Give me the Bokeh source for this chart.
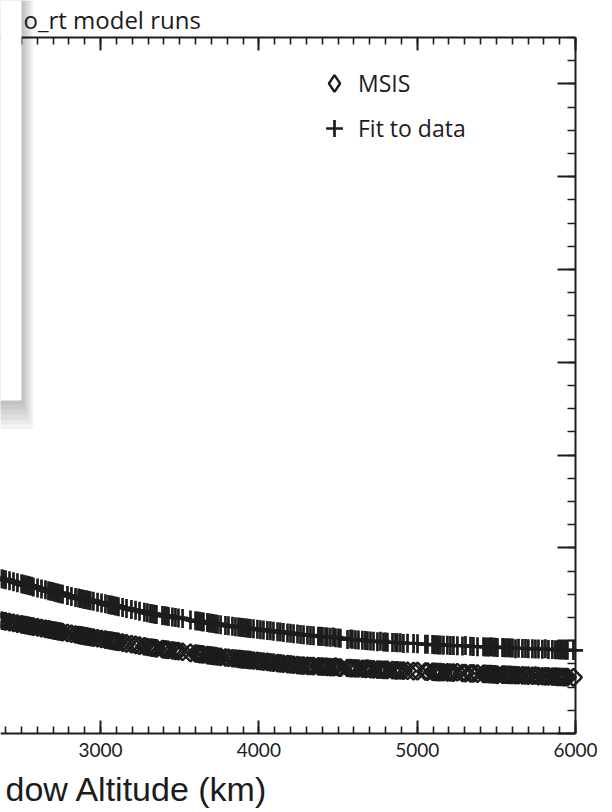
import numpy as np
from bokeh.plotting import figure
from bokeh.models import (ColumnDataSource, Range1d, LinearAxis, SingleIntervalTicker,
                          CustomJSTickFormatter, Label, BoxAnnotation, Legend, LegendItem)
from bokeh.embed import file_html
from bokeh.resources import INLINE

# ---------------- data ----------------
altitude_km = [
    2330, 2349,
    2374, 2387, 2400, 2425, 2450, 2475, 2501, 2513, 2526, 2539,
    2551, 2564, 2576, 2602, 2627, 2652, 2671, 2684, 2696, 2709,
    2722, 2734, 2747, 2760, 2791, 2816, 2842, 2861, 2873, 2886,
    2899, 2911, 2924, 2936, 2955, 2981, 3006, 3031, 3050, 3063,
    3075, 3088, 3101, 3113, 3139, 3164, 3195, 3221, 3246, 3277,
    3296,
    3315, 3328, 3341, 3353, 3391, 3404, 3416, 3429, 3454, 3473,
    3492, 3518, 3568, 3600, 3612, 3625, 3638, 3650, 3675, 3688,
    3701, 3713, 3726, 3739, 3758, 3789, 3808, 3833, 3852, 3871,
    3884, 3896, 3909, 3922, 3934, 3947, 3966, 3991, 4010, 4029,
    4054, 4073, 4092, 4118, 4136, 4155, 4181, 4200, 4219, 4244,
    4263, 4282, 4307, 4326, 4345, 4376, 4389, 4402, 4421, 4433,
    4452, 4471, 4484, 4503, 4515, 4560, 4579, 4591, 4610, 4629,
    4654, 4673, 4686, 4705, 4724, 4749, 4768, 4787, 4800, 4812,
    4844, 4863, 4875, 4894, 4913, 4939, 4977, 5002, 5052, 5065,
    5097, 5109, 5122, 5134, 5147, 5166, 5191,
    5210, 5229, 5254, 5286, 5305, 5337, 5355, 5381, 5419, 5431,
    5444, 5457, 5469, 5482, 5494, 5507, 5539, 5551, 5564, 5577,
    5589, 5602, 5621, 5640, 5665, 5684, 5702, 5728, 5747, 5766,
    5791, 5810, 5829, 5854, 5873, 5886, 5899, 5911, 5924, 5937,
    5949, 5987,
]

fit_to_data = [
    1.686, 1.678,
    1.667, 1.662, 1.656, 1.646, 1.635, 1.624, 1.613, 1.607, 1.602, 1.597,
    1.591, 1.586, 1.580, 1.569, 1.558, 1.548, 1.539, 1.534, 1.529, 1.523,
    1.518, 1.512, 1.507, 1.501, 1.488, 1.477, 1.466, 1.459, 1.454, 1.450,
    1.445, 1.441, 1.436, 1.431, 1.424, 1.415, 1.406, 1.397, 1.390, 1.385,
    1.381, 1.376, 1.371, 1.367, 1.357, 1.348, 1.337, 1.327, 1.318, 1.307,
    1.300,
    1.293, 1.290, 1.286, 1.283, 1.272, 1.269, 1.265, 1.262, 1.255, 1.250,
    1.245, 1.238, 1.224, 1.216, 1.212, 1.209, 1.205, 1.202, 1.195, 1.192,
    1.188, 1.185, 1.181, 1.178, 1.173, 1.164, 1.160, 1.155, 1.151, 1.147,
    1.145, 1.142, 1.139, 1.137, 1.134, 1.132, 1.128, 1.123, 1.119, 1.115,
    1.110, 1.106, 1.102, 1.097, 1.093, 1.089, 1.084, 1.080, 1.076, 1.071,
    1.067, 1.064, 1.060, 1.057, 1.054, 1.049, 1.047, 1.045, 1.042, 1.040,
    1.037, 1.040, 1.032, 1.029, 1.027, 1.014, 1.017, 1.015, 1.011, 1.008,
    1.004, 1.001, 0.999, 0.996, 0.993, 0.990, 0.995, 0.986, 0.985, 0.984,
    0.981, 0.980, 0.978, 0.977, 0.970, 0.973, 0.969, 0.967, 0.963, 0.961,
    0.959, 0.957, 0.956, 0.955, 0.954, 0.952, 0.950,
    0.948, 0.947, 0.945, 0.943, 0.948, 0.939, 0.938, 0.936, 0.934, 0.933,
    0.932, 0.931, 0.936, 0.929, 0.929, 0.928, 0.926, 0.925, 0.924, 0.923,
    0.922, 0.921, 0.913, 0.919, 0.917, 0.916, 0.914, 0.913, 0.911, 0.910,
    0.908, 0.912, 0.906, 0.904, 0.903, 0.902, 0.901, 0.900, 0.899, 0.898,
    0.898, 0.895,
]

msis = [
    1.230, 1.224,
    1.216, 1.212, 1.208, 1.200, 1.192, 1.184, 1.176, 1.172, 1.168, 1.164,
    1.160, 1.156, 1.152, 1.144, 1.136, 1.128, 1.122, 1.118, 1.113, 1.109,
    1.105, 1.101, 1.097, 1.093, 1.083, 1.075, 1.067, 1.061, 1.058, 1.054,
    1.050, 1.046, 1.043, 1.039, 1.033, 1.026, 1.018, 1.011, 1.005, 1.002,
    0.998, 0.994, 0.990, 0.987, 0.979, 0.972, 0.962, 0.955, 0.947, 0.938,
    0.932,
    0.927, 0.924, 0.921, 0.918, 0.910, 0.907, 0.904, 0.901, 0.895, 0.891,
    0.887, 0.881, 0.869, 0.862, 0.859, 0.856, 0.854, 0.851, 0.845, 0.842,
    0.839, 0.836, 0.833, 0.830, 0.826, 0.819, 0.816, 0.811, 0.808, 0.804,
    0.802, 0.799, 0.797, 0.795, 0.793, 0.790, 0.787, 0.782, 0.779, 0.775,
    0.771, 0.767, 0.764, 0.759, 0.756, 0.752, 0.748, 0.744, 0.741, 0.736,
    0.733, 0.731, 0.729, 0.727, 0.726, 0.723, 0.722, 0.720, 0.719, 0.718,
    0.716, 0.714, 0.720, 0.711, 0.710, 0.706, 0.705, 0.703, 0.702, 0.700,
    0.698, 0.696, 0.700, 0.693, 0.691, 0.689, 0.688, 0.686, 0.686, 0.685,
    0.683, 0.681, 0.680, 0.679, 0.678, 0.676, 0.673, 0.672, 0.668, 0.667,
    0.665, 0.664, 0.663, 0.662, 0.661, 0.660, 0.658,
    0.657, 0.656, 0.660, 0.652, 0.651, 0.648, 0.647, 0.645, 0.643, 0.642,
    0.641, 0.640, 0.639, 0.638, 0.638, 0.631, 0.635, 0.634, 0.633, 0.632,
    0.631, 0.630, 0.629, 0.628, 0.626, 0.625, 0.623, 0.622, 0.625, 0.619,
    0.617, 0.616, 0.615, 0.613, 0.612, 0.611, 0.610, 0.609, 0.608, 0.607,
    0.607, 0.604,
]

x_axis_min, x_axis_max = 2368, 6000   # km shown on the (cropped) x axis
y_axis_min, y_axis_max = 0.0, 7.5
x_ticks_major = 1000
x_minor_per_major = 10
y_ticks_major = 1
y_minor_per_major = 4

assert len(altitude_km) == len(fit_to_data) == len(msis)

# ---------------- layout: the frame fills the canvas ----------------
W, H = 597, 812
AX_L, AX_R, AX_T, AX_B = 0, 575, 37, 733      # pixel positions of the axis box


def sx(px):
    return x_axis_min + (px - AX_L) * (x_axis_max - x_axis_min) / (AX_R - AX_L)


def sy(py):
    return y_axis_min + (AX_B - py) * (y_axis_max - y_axis_min) / (AX_B - AX_T)


INK = "#1c1c1c"

src = ColumnDataSource(dict(x=altitude_km, fit=fit_to_data, msis=msis))

p = figure(width=W, height=H, output_backend="svg", toolbar_location=None,
           x_range=Range1d(sx(0), sx(W)), y_range=Range1d(sy(H), sy(0)),
           x_axis_location="below", y_axis_location="right",
           min_border=0, min_border_left=0, min_border_right=0,
           min_border_top=0, min_border_bottom=0)
p.outline_line_color = None
p.grid.visible = False
p.background_fill_color = "white"
p.border_fill_color = "white"

empty_fmt = CustomJSTickFormatter(code="return ''")


def style_axis(ax, major_len, minor_len):
    ax.axis_line_color = INK
    ax.axis_line_width = 2
    ax.major_tick_line_color = INK
    ax.major_tick_line_width = 2
    ax.minor_tick_line_color = INK
    ax.minor_tick_line_width = 1.6
    ax.major_tick_in = major_len
    ax.major_tick_out = 0
    ax.minor_tick_in = minor_len
    ax.minor_tick_out = 0


# bottom axis (sits at y = 0 inside the canvas)
xb = p.xaxis[0]
xb.ticker = SingleIntervalTicker(interval=x_ticks_major, num_minor_ticks=x_minor_per_major)
xb.fixed_location = y_axis_min
xb.bounds = (sx(0), x_axis_max)
style_axis(xb, 13, 7)
xb.major_label_text_font = "Lato"
xb.major_label_text_font_size = "19px"
xb.major_label_text_color = INK
xb.major_label_standoff = 9

# top axis
xt = LinearAxis(ticker=SingleIntervalTicker(interval=x_ticks_major, num_minor_ticks=x_minor_per_major),
                formatter=empty_fmt, fixed_location=y_axis_max, bounds=(sx(0), x_axis_max))
style_axis(xt, 13, 7)
p.add_layout(xt, "above")

# right axis
yr = p.yaxis[0]
yr.ticker = SingleIntervalTicker(interval=y_ticks_major, num_minor_ticks=y_minor_per_major)
yr.formatter = empty_fmt
yr.fixed_location = x_axis_max
yr.bounds = (y_axis_min, y_axis_max)
style_axis(yr, 18, 8)

# data
p.line("x", "fit", source=src, line_color=INK, line_width=2.6)
r_fit = p.scatter("x", "fit", source=src, marker="cross", size=19,
                  line_color=INK, line_width=2.7)
p.scatter("x", "msis", source=src, marker="square", angle=np.pi / 4, size=12,
          line_color=INK, line_width=2.4, fill_color=None)
# legend key for MSIS (a single undrawn NaN point; only its diamond shows in the legend)
r_msis_key = p.scatter(x=[np.nan], y=[np.nan], marker="diamond", size=18,
                       line_color=INK, line_width=2.4, fill_color=None)

# legends
legend_style = dict(glyph_width=42, glyph_height=42, label_standoff=3, padding=0, margin=0,
                    spacing=0, border_line_color=None, background_fill_alpha=0,
                    label_text_font="Open Sans", label_text_font_size="23px",
                    label_text_color=INK)
leg1 = Legend(items=[LegendItem(label="MSIS", renderers=[r_msis_key])],
              location=(313, H - 104), **legend_style)
leg2 = Legend(items=[LegendItem(label="Fit to data", renderers=[r_fit])],
              location=(313, H - 149), **legend_style)
p.add_layout(leg1)
p.add_layout(leg2)

# shadowed panel at the upper left
for k in range(6):
    p.add_layout(BoxAnnotation(left=sx(-60), right=sx(23 + 2 * k), bottom=sy(404 + 5 * k),
                               top=sy(-60), fill_color="black", fill_alpha=0.045,
                               line_color=None, level="annotation"))
p.add_layout(BoxAnnotation(left=sx(-60), right=sx(21), bottom=sy(400), top=sy(-60),
                           fill_color="white", fill_alpha=1.0, line_color=None,
                           level="annotation"))

# texts
p.add_layout(Label(x=sx(23), y=sy(19), text="o_rt model runs", text_font="Open Sans",
                   text_font_size="24px", text_color=INK, text_baseline="alphabetic",
                   level="annotation"))
p.add_layout(Label(x=sx(5), y=sy(788), text="dow Altitude (km)", text_font="Liberation Sans",
                   text_font_size="34px", text_color=INK, text_baseline="alphabetic",
                   level="annotation"))

open("out.html", "w").write(file_html(p, INLINE))
